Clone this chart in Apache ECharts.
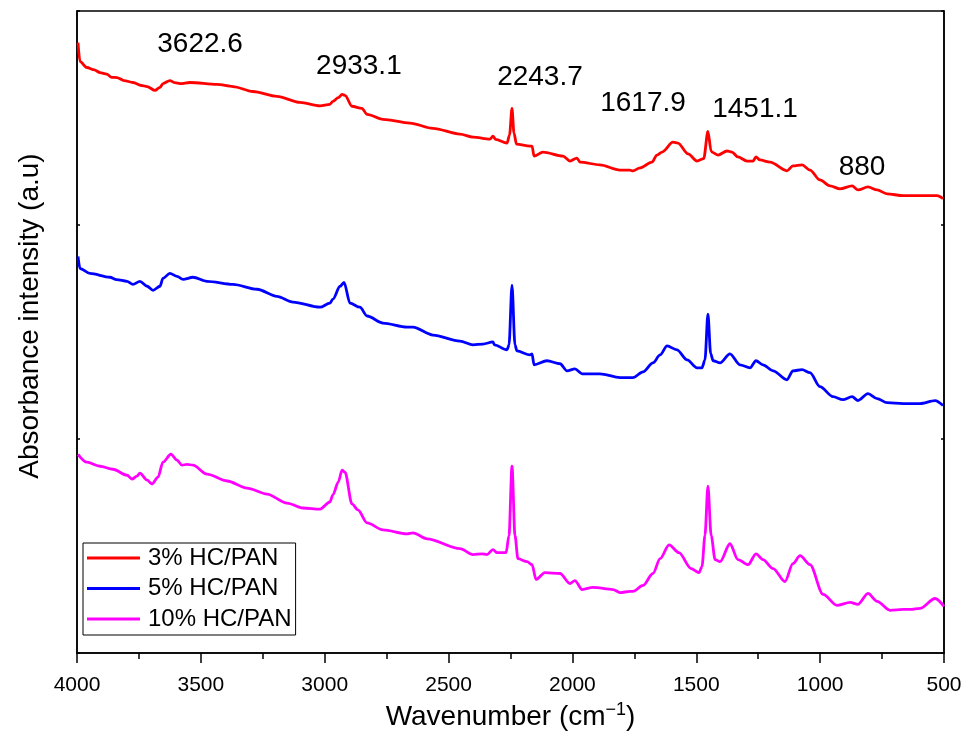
<!DOCTYPE html>
<html>
<head>
<meta charset="utf-8">
<script src="https://cdn.jsdelivr.net/npm/echarts@6/dist/echarts.min.js"></script>
<style>html,body{margin:0;padding:0;background:#fff}#c{width:972px;height:736px}</style>
</head>
<body>
<div id="c"></div>
<script>
// [wavenumber (cm^-1), absorbance (a.u., offset)]
var seriesNames = ['3% HC/PAN', '5% HC/PAN', '10% HC/PAN'];
var xTicks = [4000, 3500, 3000, 2500, 2000, 1500, 1000, 500];

var red = [
[3996,2.852],[3988,2.764],[3960,2.736],[3930,2.725],[3907,2.712],[3880,2.705],[3860,2.69],[3839,2.689],[3810,2.675],[3774,2.666],[3740,2.652],[3717,2.647],[3685,2.629],[3665,2.643],[3653,2.661],[3625,2.675],[3605,2.665],[3584,2.661],[3544,2.666],[3435,2.657],[3370,2.647],[3290,2.624],[3193,2.601],[3100,2.573],[3019,2.557],[2979,2.564],[2967,2.578],[2945,2.595],[2930,2.610],[2918,2.606],[2890,2.555],[2850,2.545],[2829,2.517],[2765,2.494],[2656,2.476],[2563,2.452],[2454,2.425],[2401,2.411],[2333,2.401],[2321,2.415],[2310,2.40],[2264,2.383],[2254,2.42],[2244,2.545],[2236,2.43],[2226,2.378],[2171,2.369],[2163,2.369],[2155,2.322],[2119,2.341],[2038,2.322],[2010,2.299],[1982,2.313],[1969,2.294],[1889,2.281],[1808,2.257],[1768,2.257],[1756,2.253],[1727,2.267],[1679,2.294],[1659,2.327],[1638,2.341],[1594,2.387],[1574,2.383],[1533,2.332],[1497,2.299],[1470,2.31],[1453,2.438],[1440,2.345],[1437,2.341],[1412,2.327],[1376,2.346],[1356,2.341],[1332,2.318],[1295,2.299],[1271,2.299],[1259,2.318],[1243,2.304],[1202,2.294],[1134,2.253],[1110,2.276],[1073,2.281],[1041,2.257],[1001,2.211],[960,2.183],[920,2.169],[871,2.183],[847,2.164],[807,2.178],[770,2.164],[730,2.146],[665,2.137],[597,2.137],[528,2.137],[504,2.123]
];

var blue = [
[3996,1.853],[3988,1.797],[3948,1.774],[3867,1.756],[3840,1.745],[3798,1.737],[3774,1.723],[3746,1.737],[3717,1.714],[3693,1.695],[3665,1.714],[3653,1.751],[3625,1.774],[3596,1.760],[3572,1.746],[3532,1.756],[3475,1.737],[3370,1.723],[3273,1.700],[3193,1.667],[3128,1.640],[3019,1.616],[2979,1.635],[2967,1.654],[2938,1.714],[2922,1.732],[2898,1.635],[2858,1.616],[2829,1.575],[2765,1.542],[2668,1.523],[2644,1.523],[2563,1.486],[2454,1.458],[2401,1.440],[2361,1.444],[2321,1.454],[2315,1.440],[2264,1.417],[2256,1.44],[2244,1.719],[2232,1.44],[2224,1.412],[2171,1.393],[2163,1.398],[2155,1.347],[2103,1.366],[2050,1.352],[2022,1.319],[1990,1.328],[1961,1.305],[1889,1.305],[1808,1.287],[1768,1.287],[1756,1.287],[1715,1.314],[1675,1.356],[1646,1.393],[1618,1.435],[1578,1.417],[1537,1.370],[1497,1.333],[1477,1.333],[1465,1.37],[1453,1.584],[1442,1.40],[1432,1.366],[1404,1.356],[1364,1.398],[1324,1.347],[1283,1.333],[1259,1.366],[1231,1.347],[1190,1.319],[1134,1.277],[1110,1.319],[1073,1.324],[1041,1.310],[1001,1.245],[948,1.198],[908,1.184],[871,1.198],[847,1.180],[807,1.212],[770,1.189],[730,1.170],[665,1.166],[597,1.166],[536,1.180],[504,1.157]
];

var magenta = [
[3996,0.929],[3960,0.892],[3907,0.873],[3855,0.859],[3798,0.831],[3778,0.813],[3758,0.827],[3746,0.841],[3717,0.808],[3697,0.790],[3673,0.822],[3653,0.892],[3621,0.929],[3596,0.901],[3576,0.878],[3556,0.882],[3532,0.878],[3475,0.836],[3394,0.804],[3314,0.771],[3233,0.743],[3152,0.701],[3088,0.678],[3019,0.673],[2979,0.706],[2967,0.739],[2945,0.80],[2930,0.855],[2918,0.845],[2890,0.697],[2866,0.669],[2829,0.608],[2765,0.576],[2668,0.557],[2644,0.562],[2587,0.534],[2454,0.488],[2401,0.460],[2365,0.464],[2345,0.460],[2321,0.483],[2304,0.469],[2268,0.469],[2256,0.55],[2244,0.873],[2232,0.55],[2220,0.441],[2183,0.427],[2163,0.413],[2147,0.344],[2111,0.376],[2050,0.372],[2010,0.325],[1990,0.339],[1961,0.297],[1917,0.307],[1836,0.297],[1808,0.283],[1768,0.288],[1756,0.288],[1715,0.316],[1675,0.372],[1646,0.441],[1610,0.506],[1570,0.469],[1521,0.395],[1489,0.376],[1477,0.404],[1465,0.55],[1453,0.780],[1440,0.55],[1424,0.437],[1404,0.427],[1364,0.511],[1332,0.437],[1291,0.413],[1259,0.464],[1231,0.437],[1190,0.395],[1142,0.334],[1110,0.418],[1081,0.455],[1041,0.413],[988,0.274],[932,0.223],[879,0.237],[847,0.228],[807,0.279],[770,0.242],[718,0.200],[665,0.204],[637,0.204],[597,0.209],[536,0.255],[500,0.218]
];

// peak annotations
var peakLabelX = [3503, 2862, 2131, 1715, 1263, 831];
var peakLabelY = [2.843, 2.740, 2.689, 2.569, 2.541, 2.271];
var peakLabels = ['3622.6', '2933.1', '2243.7', '1617.9', '1451.1', '880'];

var FONT = '"Liberation Sans", Arial, Helvetica, sans-serif';
var colors = ['#ff0000', '#0000ff', '#ff00ff'];
var dataSets = [red, blue, magenta];

var chart = echarts.init(document.getElementById('c'), null, {renderer: 'canvas'});

var series = seriesNames.map(function (n, i) {
  return {
    name: n, type: 'line', data: dataSets[i], showSymbol: false, symbol: 'none',
    smooth: 0.3, smoothMonotone: 'x',
    lineStyle: {color: colors[i], width: 2.8}, itemStyle: {color: colors[i]},
    animation: false, z: 3
  };
});
series.push({
  type: 'scatter', name: 'peaks', symbolSize: 1, itemStyle: {color: 'rgba(0,0,0,0)'},
  data: peakLabels.map(function (t, i) { return {value: [peakLabelX[i], peakLabelY[i]], name: t}; }),
  label: {show: true, position: 'inside', formatter: '{b}', color: '#000', opacity: 1, fontSize: 28, fontFamily: FONT, textBorderWidth: 0},
  emphasis: {disabled: true},
  silent: true, animation: false, z: 4
});

chart.setOption({
  backgroundColor: '#fff',
  animation: false,
  grid: {left: 77, right: 28, top: 11, bottom: 79, show: true, borderColor: '#000', borderWidth: 1.5, backgroundColor: 'transparent'},
  legend: {
    data: seriesNames, orient: 'vertical', left: 83, top: 543,
    borderColor: '#000', borderWidth: 1, borderRadius: 0, padding: [3, 4, 4, 4],
    itemWidth: 53, itemHeight: 3, itemGap: 6.5, icon: 'rect',
    textStyle: {fontSize: 24, lineHeight: 24, color: '#000', fontFamily: FONT, padding: [0, 0, 0, 3]},
    selectedMode: false
  },
  xAxis: {
    type: 'value', inverse: true, min: 500, max: 4000, interval: 500,
    name: 'Wavenumber (cm{sup|\u22121})', nameLocation: 'middle', nameGap: 46,
    nameTextStyle: {fontSize: 28, color: '#000', fontFamily: FONT,
      rich: {sup: {fontSize: 18, verticalAlign: 'top', color: '#000', fontFamily: FONT, padding: [0, 0, 14, 0]}}},
    axisLine: {show: true, lineStyle: {color: '#000', width: 1.5}},
    axisTick: {show: true, inside: false, length: 10, lineStyle: {color: '#000', width: 1.5}},
    minorTick: {show: true, splitNumber: 2, length: 6, lineStyle: {color: '#000', width: 1.5}},
    axisLabel: {fontSize: 21, color: '#000', fontFamily: FONT, margin: 22, formatter: function (v) { return String(v); }},
    splitLine: {show: false}
  },
  yAxis: [{
    type: 'value', min: 0, max: 3, interval: 1, position: 'left',
    axisLine: {show: true, lineStyle: {color: '#000', width: 1.5}},
    axisTick: {show: true, inside: true, length: 3, lineStyle: {color: '#000', width: 1.5}},
    axisLabel: {show: false}, splitLine: {show: false}
  }, {
    type: 'value', min: 0, max: 3, interval: 1, position: 'right',
    axisLine: {show: true, lineStyle: {color: '#000', width: 1.5}},
    axisTick: {show: true, inside: true, length: 3, lineStyle: {color: '#000', width: 1.5}},
    axisLabel: {show: false}, splitLine: {show: false}
  }],
  graphic: [{
    type: 'text', x: 30, y: 316, rotation: Math.PI / 2,
    style: {text: 'Absorbance intensity (a.u)', fontSize: 28, fontFamily: FONT, fill: '#000', align: 'center', verticalAlign: 'middle'}
  }],
  series: series
});
</script>
</body>
</html>
